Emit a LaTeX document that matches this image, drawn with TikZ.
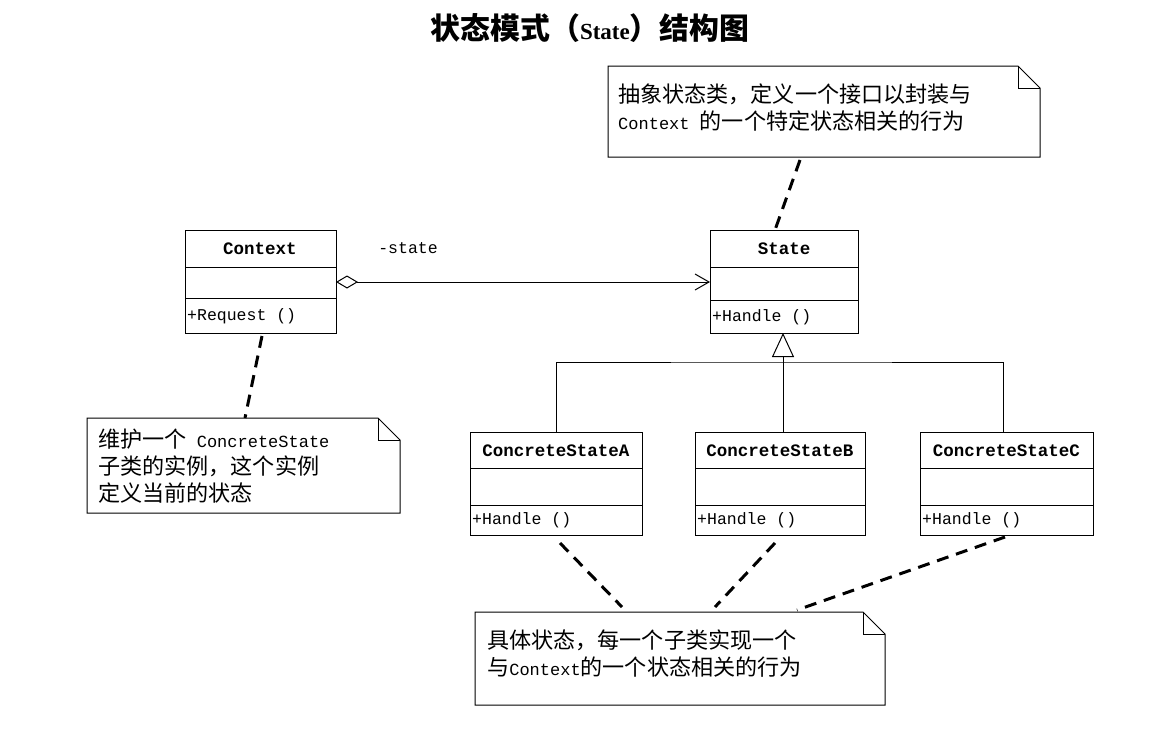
\documentclass[tikz,border=0pt]{standalone}
\usepackage{fontspec}
\setmainfont{Liberation Serif}
\newfontfamily\mono{Liberation Mono}
\newfontfamily\cjk{Noto Sans CJK SC}[Scale=1.3]
\newcommand\zh[1]{{\cjk #1}}
\usetikzlibrary{arrows.meta}
\begin{document}
\begin{tikzpicture}[x=1pt,y=-1pt,
  box/.style={draw,line width=1pt},
  nm/.style={font=\mono\bfseries\fontsize{17.5}{20}\selectfont},
  mt/.style={font=\mono\fontsize{16.5}{20}\selectfont,anchor=west,inner sep=2pt},
  nt/.style={font=\mono\fontsize{17}{27}\selectfont,anchor=north west,align=left,inner sep=0pt},
  dsh/.style={line width=3pt,dash pattern=on 12pt off 8pt}]
\useasboundingbox[fill=white] (0,0) rectangle (1151,739);
\node[font=\bfseries\fontsize{23}{26}\selectfont] (title) at (590,28) {\zh{状态模式（}State\zh{）结构图}};
% Context
\draw[box] (185,230) rectangle (336,333);
\draw[box] (185,267) -- (336,267); \draw[box] (185,298) -- (336,298);
\node[nm] (ctx) at (260,249) {Context};
\node[mt] (ctxm) at (185,316) {+Request ()};
\coordinate (ctxR) at (336,282);
\coordinate (ctxB) at (262,336);
% State
\draw[box] (710,230) rectangle (858,333);
\draw[box] (710,267) -- (858,267); \draw[box] (710,300) -- (858,300);
\node[nm] (st) at (784,249) {State};
\node[mt] (stm) at (710,317) {+Handle ()};
\coordinate (stL) at (710,282);
\coordinate (stB) at (783,333);
\coordinate (stT) at (775,230);
% concrete
\foreach \n/\a/\b in {A/470/642,B/695/865,C/920/1093}{
  \draw[box] (\a,432) rectangle (\b,535);
  \draw[box] (\a,468) -- (\b,468); \draw[box] (\a,505) -- (\b,505);
  \node[nm] (c\n) at ({(\a+\b)/2},451) {ConcreteState\n};
  \node[mt] (c\n m) at (\a,520) {+Handle ()};
}
\coordinate (tA) at (556,432); \coordinate (tB) at (783,432); \coordinate (tC) at (1003,432);
% aggregation
\draw[line width=1pt,{Diamond[open,length=22pt,width=13pt]}-{Straight Barb[length=14pt,width=16pt]}] (ctxR) -- (stL);
\node[font=\mono\fontsize{16.5}{18}\selectfont] (lbl) at (408,248) {-state};
% inheritance
\coordinate (j) at (783,362);
\draw[line width=1pt,-{Triangle[open,length=24pt,width=22pt]}] (j) -- (stB);
\draw[line width=1pt] (tA) |- (j) -| (tC);
\draw[line width=1pt] (tB) -- (j);
% notes
\newcommand\note[5]{% name x1 y1 x2 y2
  \draw[line width=1pt] (#2,#3) -- ({#4-22},#3) -- (#4,{#3+22}) -- (#4,#5) -- (#2,#5) -- cycle;
  \draw[line width=1pt] ({#4-22},#3) -- ({#4-22},{#3+22}) -- (#4,{#3+22});
  \coordinate (#1) at (#2,#3);}
\note{n1}{608}{66}{1040}{157}
\node[nt] (n1t) at (618,84) {\zh{抽象状态类，定义一个接口以封装与}\\Context \zh{的一个特定状态相关的行为}};
\note{n2}{87}{418}{400}{513}
\node[nt] (n2t) at (98,429) {\zh{维护一个} ConcreteState\\\zh{子类的实例，这个实例}\\\zh{定义当前的状态}};
\note{n3}{475}{612}{885}{705}
\node[nt] (n3t) at (487,630) {\zh{具体状态，每一个子类实现一个}\\\zh{与}Context\zh{的一个状态相关的行为}};
\coordinate (n1b) at (800,160);
\coordinate (n2t0) at (245,418);
\coordinate (n3a) at (622,607); \coordinate (n3b) at (715,607); \coordinate (n3c) at (797,610);
\coordinate (cAb) at (560,543); \coordinate (cBb) at (775,543); \coordinate (cCb) at (1005,537);
\draw[dsh] (n1b) -- (stT);
\draw[dsh] (ctxB) -- (n2t0);
\draw[dsh] (cAb) -- (n3a);
\draw[dsh] (cBb) -- (n3b);
\draw[dsh] (cCb) -- (n3c);
\end{tikzpicture}
\end{document}
